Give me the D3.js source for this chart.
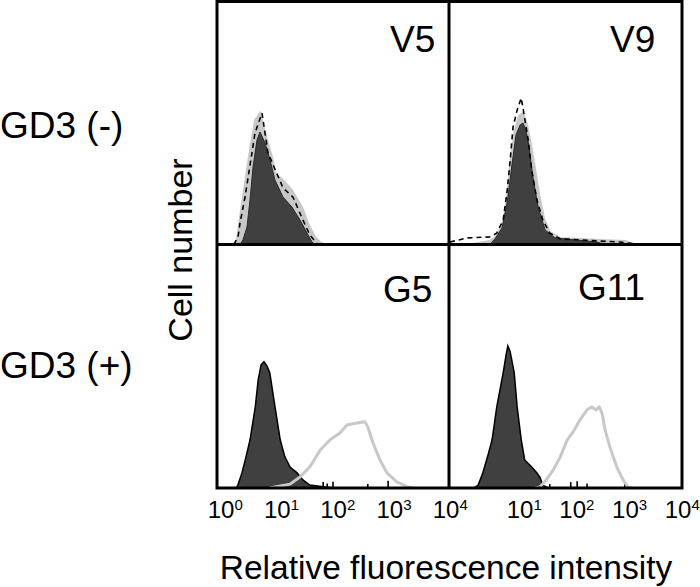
<!DOCTYPE html>
<html>
<head>
<meta charset="utf-8">
<script src="https://cdn.jsdelivr.net/npm/d3@7"></script>
<style>
  html, body { margin: 0; padding: 0; background: #fff; }
  svg { display: block; font-family: "Liberation Sans", Arial, Helvetica, sans-serif; }
</style>
</head>
<body>
<svg id="chart" width="700" height="587"></svg>
<script>
// ---------------- DATA (log10 intensity, cell count in % of panel height) ----------------
const panelNames = ["V5", "V9", "G5", "G11"];
const rowLabels = ["GD3 (-)", "GD3 (+)"];
const tickExpCol1 = [0, 1, 2, 3, 4];
const tickExpCol2 = [1, 2, 3, 4];
const xTitle = "Relative fluorescence intensity";
const yTitle = "Cell number";

// V5 (GD3 -)
const v5Gray = [[0.29,0],[0.345,1.9],[0.397,11.3],[0.483,25.3],[0.569,38.9],[0.655,51.2],[0.741,54.1],
  [0.828,45.9],[0.948,36.0],[1.0,29.4],[1.138,26.5],[1.293,22.4],[1.466,15.4],[1.569,8.8],[1.69,3.1],[1.776,1.0],[1.86,0]];
const v5Dark = [[0.397,0],[0.448,1.9],[0.517,7.2],[0.569,18.3],[0.621,31.9],[0.69,43.0],[0.741,46.3],
  [0.828,41.8],[0.914,34.8],[1.0,26.5],[1.138,19.5],[1.293,15.4],[1.431,10.1],[1.552,4.7],[1.638,1.0],[1.69,0]];
const v5Dash = [[0.29,0],[0.362,3.1],[0.397,8.8],[0.483,19.5],[0.603,37.7],[0.655,45.9],[0.776,54.1],
  [0.879,37.7],[1.138,23.3],[1.31,19.5],[1.466,10.9],[1.60,3.9],[1.74,0]];

// V9 (GD3 -)
const v9Gray = [[0.36,0],[0.70,1.4],[0.82,3.5],[0.93,9.3],[1.0,20.4],[1.06,34.8],[1.13,47.1],[1.20,52.9],
  [1.27,54.1],[1.34,49.2],[1.41,40.9],[1.48,30.7],[1.55,20.4],[1.63,10.9],[1.73,5.1],[1.91,2.7],[2.25,2.3],
  [2.59,1.9],[3.02,1.4],[3.19,0]];
const v9Dark = [[0.70,0],[0.79,2.3],[0.91,6.8],[1.0,17.5],[1.08,32.7],[1.15,45.1],[1.22,49.2],[1.27,50.0],
  [1.32,47.1],[1.37,40.9],[1.44,27.8],[1.53,15.4],[1.65,6.0],[1.82,2.7],[2.16,1.9],[2.54,1.0],[2.68,0]];
const v9Dash = [[0.017,1],[0.31,2.7],[0.70,3.1],[0.82,4.7],[0.93,10],[1.0,22.4],[1.05,34.8],[1.10,48.4],
  [1.17,55.3],[1.24,60.3],[1.29,53.3],[1.36,43.0],[1.42,30.7],[1.51,18.3],[1.61,10.1],[1.73,4.7],[1.91,2.3],
  [2.25,1.9],[2.59,1.4],[2.94,1.0],[3.28,0]];

// G5 (GD3 +)
const g5Dark = [[0.33,0],[0.36,1.2],[0.43,6.2],[0.50,12.8],[0.57,19.8],[0.66,33.3],[0.71,44.4],[0.76,50.6],
  [0.81,51.9],[0.86,50.2],[0.91,47.3],[1.0,33.3],[1.09,19.8],[1.17,12.8],[1.26,8.6],[1.38,6.2],[1.48,3.3],
  [1.60,1.2],[1.86,0.4],[2.03,0]];
const g5Gray = [[0.91,0],[1.09,0.8],[1.26,1.6],[1.43,4.5],[1.60,8.6],[1.78,15.6],[1.95,19.8],[2.12,22.6],
  [2.24,25.9],[2.41,26.7],[2.55,27.2],[2.60,25.1],[2.69,18.5],[2.81,11.5],[2.93,6.2],[3.10,2.5],[3.29,0.4],[3.41,0]];
const g5Spikes = [[1.83,2.5],[1.90,1.8],[2.0,2.6],[2.60,1.6],[2.95,3.0]];

// G11 (GD3 +)
const g11Dark = [[0.43,0],[0.50,1.2],[0.58,6.2],[0.67,13.6],[0.74,19.8],[0.82,33.3],[0.93,47.3],[0.98,54.7],
  [1.01,58.4],[1.05,56.0],[1.12,47.3],[1.17,33.3],[1.24,19.8],[1.30,11.5],[1.42,8.6],[1.51,6.2],[1.56,4.5],
  [1.61,1.2],[1.70,0]];
const g11Gray = [[1.48,0],[1.56,0.4],[1.67,3.3],[1.79,7.4],[1.91,12.8],[2.03,19.8],[2.13,23.0],[2.25,28.0],
  [2.37,32.1],[2.45,33.3],[2.52,32.1],[2.58,33.3],[2.63,30.5],[2.68,23.9],[2.76,16.9],[2.88,8.6],[2.99,3.3],
  [3.07,0.4],[3.14,0]];
const g11Spikes = [[1.73,1.6],[2.09,2.4],[2.20,2.8],[2.37,1.8],[3.02,2.4]];

// ---------------- LAYOUT ----------------
const svg = d3.select("#chart");
const colRange = [[217, 449], [449, 682]];
const rowRange = [[244.5, 1.5], [488, 244.5]];
const DARK = "#404040", LIGHT = "#c8c8c8";

const xs = colRange.map(r => d3.scaleLog().domain([1, 1e4]).range(r));
const ys = rowRange.map(r => d3.scaleLinear().domain([0, 100]).range(r));

const panels = [
  { col: 0, row: 0, name: panelNames[0], gray: v5Gray, dark: v5Dark, dash: v5Dash, top: true, lx: 390, ly: 52 },
  { col: 1, row: 0, name: panelNames[1], gray: v9Gray, dark: v9Dark, dash: v9Dash, top: true, lx: 610, ly: 52 },
  { col: 0, row: 1, name: panelNames[2], gray: g5Gray, dark: g5Dark, spikes: g5Spikes, top: false, lx: 383, ly: 302 },
  { col: 1, row: 1, name: panelNames[3], gray: g11Gray, dark: g11Dark, spikes: g11Spikes, top: false, lx: 578, ly: 300 }
];

const defs = svg.append("defs");
panels.forEach((p, i) => {
  const x = xs[p.col], y = ys[p.row];
  defs.append("clipPath").attr("id", "clip" + i).append("rect")
    .attr("x", x.range()[0]).attr("y", y.range()[1])
    .attr("width", x.range()[1] - x.range()[0]).attr("height", y.range()[0] - y.range()[1]);

  const g = svg.append("g").attr("clip-path", `url(#clip${i})`);
  const px = d => x(Math.pow(10, d[0]));
  const area = d3.area().x(px).y0(y(0)).y1(d => y(d[1]));
  const line = d3.line().x(px).y(d => y(d[1]));

  if (p.top) {
    g.append("path").datum(p.gray).attr("d", area).attr("fill", LIGHT).attr("stroke", LIGHT).attr("stroke-width", 2);
    g.append("path").datum(p.dark).attr("d", area).attr("fill", DARK).attr("stroke", "#2a2a2a").attr("stroke-width", 1);
    g.append("path").datum(p.dash).attr("d", line).attr("fill", "none")
      .attr("stroke", "#000").attr("stroke-width", 1.6).attr("stroke-dasharray", "5,4");
  } else {
    g.append("path").datum(p.dark).attr("d", area).attr("fill", DARK).attr("stroke", "#000").attr("stroke-width", 1.5);
    g.selectAll("line.spike").data(p.spikes).join("line")
      .attr("x1", px).attr("x2", px).attr("y1", y(0)).attr("y2", d => y(d[1]))
      .attr("stroke", "#000").attr("stroke-width", 1.6);
    g.append("path").datum(p.gray).attr("d", line).attr("fill", "none")
      .attr("stroke", LIGHT).attr("stroke-width", 3).attr("stroke-linejoin", "round");
  }

  svg.append("text").attr("x", p.lx).attr("y", p.ly).attr("font-size", 37).attr("fill", "#000").text(p.name);
});

// frame lines
svg.append("rect").attr("x", colRange[0][0]).attr("y", rowRange[0][1])
  .attr("width", colRange[1][1] - colRange[0][0]).attr("height", rowRange[1][0] - rowRange[0][1])
  .attr("fill", "none").attr("stroke", "#000").attr("stroke-width", 3);
svg.append("line").attr("x1", colRange[0][1]).attr("x2", colRange[0][1])
  .attr("y1", rowRange[0][1]).attr("y2", rowRange[1][0]).attr("stroke", "#000").attr("stroke-width", 3);
svg.append("line").attr("x1", colRange[0][0]).attr("x2", colRange[1][1])
  .attr("y1", rowRange[0][0]).attr("y2", rowRange[0][0]).attr("stroke", "#000").attr("stroke-width", 3);

// tick labels (label scales for each column)
const labelScales = [
  d3.scaleLog().domain([1, 1e4]).range([221, 446]),
  d3.scaleLog().domain([10, 1e4]).range([520, 678])
];
[tickExpCol1, tickExpCol2].forEach((exps, c) => {
  exps.forEach(e => {
    const cx = labelScales[c](Math.pow(10, e));
    const t = svg.append("text").attr("x", cx - 13.3).attr("y", 518).attr("font-size", 24).attr("fill", "#000");
    t.append("tspan").text("10");
    t.append("tspan").attr("font-size", 15).attr("dy", -8.5).text(String(e));
  });
});

// row labels
svg.append("text").attr("x", 0).attr("y", 138).attr("font-size", 37).text(rowLabels[0]);
svg.append("text").attr("x", 0).attr("y", 378).attr("font-size", 37).text(rowLabels[1]);

// axis titles
svg.append("text").attr("transform", "translate(192,250) rotate(-90)").attr("text-anchor", "middle")
  .attr("font-size", 34).text(yTitle);
svg.append("text").attr("x", 446).attr("y", 579).attr("text-anchor", "middle").attr("font-size", 33.5).text(xTitle);
</script>
</body>
</html>
